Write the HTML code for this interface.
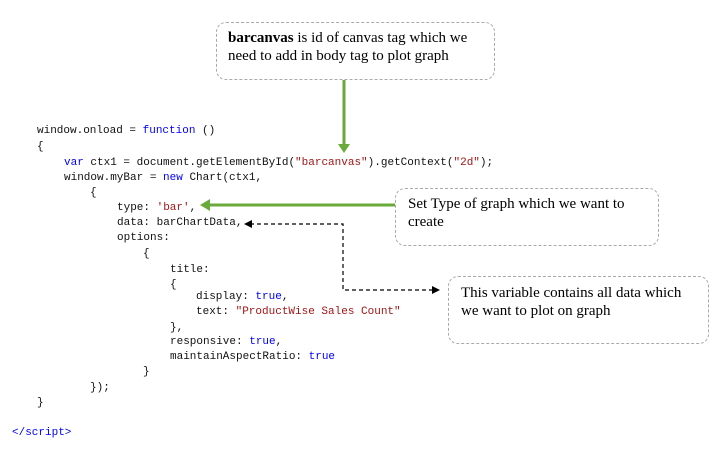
<!DOCTYPE html>
<html><head><style>
body{margin:0;width:720px;height:455px;background:#fff;position:relative;overflow:hidden}
.c{position:absolute;font-family:"Liberation Mono",monospace;font-size:11px;line-height:14px;color:#111;white-space:pre}
.k{color:#0000ff}.s{color:#a31515}
.box{position:absolute;border:1.5px dashed #aaa;border-radius:10px;font-family:"Liberation Serif",serif;font-size:15px;line-height:18px;color:#000}
</style></head><body>
<div class="c" style="left:37px;top:124px">window.onload = <span class="k">function</span> ()</div>
<div class="c" style="left:37px;top:140px">{</div>
<div class="c" style="left:64px;top:156px"><span class="k">var</span> ctx1 = document.getElementById(<span class="s">"barcanvas"</span>).getContext(<span class="s">"2d"</span>);</div>
<div class="c" style="left:64px;top:171px">window.myBar = <span class="k">new</span> Chart(ctx1,</div>
<div class="c" style="left:90px;top:186px">{</div>
<div class="c" style="left:117px;top:201px">type: <span class="s">'bar'</span>,</div>
<div class="c" style="left:117px;top:216px">data: barChartData,</div>
<div class="c" style="left:117px;top:231px">options:</div>
<div class="c" style="left:143px;top:247px">{</div>
<div class="c" style="left:170px;top:263px">title:</div>
<div class="c" style="left:170px;top:278px">{</div>
<div class="c" style="left:196px;top:290px">display: <span class="k">true</span>,</div>
<div class="c" style="left:196px;top:305px">text: <span class="s">"ProductWise Sales Count"</span></div>
<div class="c" style="left:170px;top:321px">},</div>
<div class="c" style="left:170px;top:335px">responsive: <span class="k">true</span>,</div>
<div class="c" style="left:170px;top:350px">maintainAspectRatio: <span class="k">true</span></div>
<div class="c" style="left:143px;top:365px">}</div>
<div class="c" style="left:90px;top:381px">});</div>
<div class="c" style="left:37px;top:396px">}</div>
<div class="c" style="left:12px;top:426px"><span class="k">&lt;/script&gt;</span></div>

<div class="box" style="left:216px;top:22px;width:277px;height:56px"><div style="padding:6px 0 0 11px"><b>barcanvas</b> is id of canvas tag which we<br>need to add in body tag to plot graph</div></div>
<div class="box" style="left:395px;top:188px;width:262px;height:56px"><div style="padding:6px 0 0 12px">Set Type of graph which we want to<br>create</div></div>
<div class="box" style="left:448px;top:276px;width:259px;height:66px"><div style="padding:7px 0 0 12px">This variable contains all data which<br>we want to plot on graph</div></div>

<svg width="720" height="455" style="position:absolute;left:0;top:0">
<line x1="344" y1="80" x2="344" y2="146" stroke="#6aaa3a" stroke-width="3"/>
<polygon points="338,144 350,144 344,153" fill="#6aaa3a"/>
<line x1="395" y1="205" x2="208" y2="205" stroke="#6aaa3a" stroke-width="3"/>
<polygon points="210,199 210,211 200,205" fill="#6aaa3a"/>
<path d="M250,224 H343 V290 H432" fill="none" stroke="#000" stroke-width="1.2" stroke-dasharray="4,3"/>
<polygon points="252,220 252,228 244,224" fill="#000"/>
<polygon points="432,286 432,294 440,290" fill="#000"/>
</svg>
</body></html>
